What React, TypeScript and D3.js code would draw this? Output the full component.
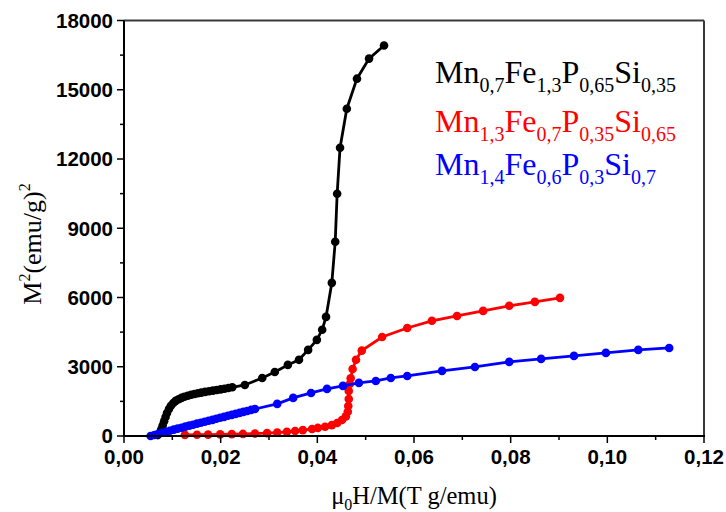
import React from "react";
import * as d3 from "d3";

// ---- Data ----
const blackX = [0.0070,0.0074,0.0077,0.0080,0.0083,0.0086,0.0089,0.0093,0.0097,0.0102,0.0107,0.0113,0.0119,0.0125,0.0132,0.0139,0.0146,0.0153,0.0160,0.0168,0.0176,0.0184,0.0192,0.0200,0.0208,0.0216,0.0224,
  0.0250,0.0286,0.0312,0.0339,0.0362,0.0381,0.0399,0.0410,0.0418,0.0430,0.0437,0.0441,0.0447,0.0461,0.0482,0.0507,0.0538];
const blackY = [40,130,280,450,640,820,1000,1170,1310,1430,1520,1590,1650,1700,1745,1785,1820,1855,1880,1910,1940,1965,1995,2020,2050,2080,2110,
  2210,2515,2775,3080,3300,3730,4165,4600,5160,6635,8415,10495,12490,14180,15480,16350,16915];

const redX = [0.0126,0.0151,0.0174,0.0199,0.0223,0.0246,0.0271,0.0296,0.0317,0.0337,0.0354,0.0370,0.0389,0.0401,0.0416,0.0430,0.0441,0.0451,0.0459,
  0.0463,0.0464,0.0465,0.0465,0.0467,0.0469,0.0473,0.0480,0.0492,0.0534,0.0586,0.0637,0.0689,0.0743,0.0797,0.0850,0.0902];
const redY = [50,55,60,70,80,90,105,125,150,180,215,255,305,350,400,470,560,690,850,
  1050,1300,1600,1950,2250,2500,2900,3300,3700,4290,4680,4990,5200,5420,5640,5810,5985];

const blueX = [0.0055,0.0063,0.0071,0.0079,0.0087,0.0095,0.0103,0.0111,0.0119,0.0127,0.0135,0.0143,0.0151,0.0159,0.0167,0.0175,0.0183,0.0191,0.0199,0.0207,0.0215,0.0223,0.0231,0.0239,0.0247,0.0255,0.0263,0.0271,
  0.0317,0.0350,0.0387,0.0420,0.0453,0.0486,0.0521,0.0552,0.0586,0.0658,0.0726,0.0797,0.0863,0.0931,0.0997,0.1064,0.1128];
const blueY = [0,45,95,140,185,230,275,320,360,405,450,490,535,575,620,660,700,745,790,830,875,915,960,1000,1045,1085,1130,1170,
  1390,1650,1865,2040,2170,2300,2385,2515,2600,2820,2990,3210,3340,3470,3600,3730,3815];

const xTicks = [0, 0.02, 0.04, 0.06, 0.08, 0.10, 0.12];
const xTickLabels = ["0,00", "0,02", "0,04", "0,06", "0,08", "0,10", "0,12"];
const yTicks = [0, 3000, 6000, 9000, 12000, 15000, 18000];
const yTickLabels = ["0", "3000", "6000", "9000", "12000", "15000", "18000"];

const seriesColors = ["#000000", "#ff0000", "#0000ff"];
// legend formulas: [element, subscript] pairs
const legendFormulas: [string, string][][] = [
  [["Mn", "0,7"], ["Fe", "1,3"], ["P", "0,65"], ["Si", "0,35"]],
  [["Mn", "1,3"], ["Fe", "0,7"], ["P", "0,35"], ["Si", "0,65"]],
  [["Mn", "1,4"], ["Fe", "0,6"], ["P", "0,3"], ["Si", "0,7"]],
];

export default function App() {
  const W = 726, H = 512;
  const left = 124, right = 704, top = 20.5, bottom = 436;
  const x = d3.scaleLinear().domain([0, 0.12]).range([left, right]);
  const y = d3.scaleLinear().domain([0, 18000]).range([bottom, top]);

  const series = [
    { xs: blackX, ys: blackY, color: seriesColors[0] },
    { xs: redX, ys: redY, color: seriesColors[1] },
    { xs: blueX, ys: blueY, color: seriesColors[2] },
  ];
  const line = d3.line<[number, number]>().x(d => x(d[0])).y(d => y(d[1]));

  const xMinor = d3.range(0.01, 0.12, 0.02);
  const yMinor = d3.range(1500, 18000, 3000);
  const tickFont = "'Liberation Sans', Arial, sans-serif";
  const serif = "'Liberation Serif', 'Times New Roman', serif";

  const legendBaselines = [83, 132, 175];

  return (
    <svg width={W} height={H} style={{ position: "absolute", left: 0, top: 0, background: "#fff" }}>
      <rect x={0} y={0} width={W} height={H} fill="#fff" />
      {/* frame top & right */}
      <line x1={left} x2={right} y1={top} y2={top} stroke="#3a3a3a" strokeWidth={2} />
      <line x1={right} x2={right} y1={top} y2={bottom} stroke="#3a3a3a" strokeWidth={2} />

      {/* series */}
      {series.map((s, i) => {
        const pts: [number, number][] = s.xs.map((v, j) => [v, s.ys[j]]);
        return (
          <g key={i}>
            <path d={line(pts) || ""} fill="none" stroke={s.color} strokeWidth={2.8} />
            {pts.map((p, j) => (
              <circle key={j} cx={x(p[0])} cy={y(p[1])} r={4.3} fill={s.color} />
            ))}
          </g>
        );
      })}

      {/* axes */}
      <line x1={left} x2={left} y1={top} y2={bottom + 1} stroke="#000" strokeWidth={2} />
      <line x1={left - 1} x2={right + 1} y1={bottom} y2={bottom} stroke="#000" strokeWidth={2} />
      {yTicks.map((t, i) => (
        <g key={"y" + i}>
          <line x1={left - 7} x2={left} y1={y(t)} y2={y(t)} stroke="#000" strokeWidth={1.5} />
          <text x={left - 11} y={y(t)} dy="0.36em" textAnchor="end" fontFamily={tickFont} fontWeight="bold" fontSize={20.5} fill="#000">
            {yTickLabels[i]}
          </text>
        </g>
      ))}
      {yMinor.map((t, i) => (
        <line key={"ym" + i} x1={left - 4} x2={left} y1={y(t)} y2={y(t)} stroke="#000" strokeWidth={1.5} />
      ))}
      {xTicks.map((t, i) => (
        <g key={"x" + i}>
          <line x1={x(t)} x2={x(t)} y1={bottom} y2={bottom + 7} stroke="#000" strokeWidth={1.5} />
          <text x={x(t)} y={464} textAnchor="middle" fontFamily={tickFont} fontWeight="bold" fontSize={20.5} fill="#000">
            {xTickLabels[i]}
          </text>
        </g>
      ))}
      {xMinor.map((t, i) => (
        <line key={"xm" + i} x1={x(t)} x2={x(t)} y1={bottom} y2={bottom + 4} stroke="#000" strokeWidth={1.5} />
      ))}

      {/* axis titles */}
      <text x={414} y={504} textAnchor="middle" fontFamily={serif} fontSize={24.5} fill="#000">
        μ<tspan fontSize={16} dy={6}>0</tspan><tspan dy={-6}>H/M(T g/emu)</tspan>
      </text>
      <text transform="translate(41,244) rotate(-90)" textAnchor="middle" fontFamily={serif} fontSize={26} fill="#000">
        M<tspan fontSize={16} dy={-11}>2</tspan><tspan dy={11}>(emu/g)</tspan><tspan fontSize={16} dy={-11}>2</tspan>
      </text>

      {/* legend */}
      {legendFormulas.map((f, i) => (
        <text key={"lg" + i} x={435} y={legendBaselines[i]} fontFamily={serif} fontSize={32} fill={seriesColors[i]}>
          {f.map(([el, sub], j) => (
            <React.Fragment key={j}>
              <tspan dy={j === 0 ? 0 : -9}>{el}</tspan>
              <tspan fontSize={20} dy={9}>{sub}</tspan>
            </React.Fragment>
          ))}
        </text>
      ))}
    </svg>
  );
}
